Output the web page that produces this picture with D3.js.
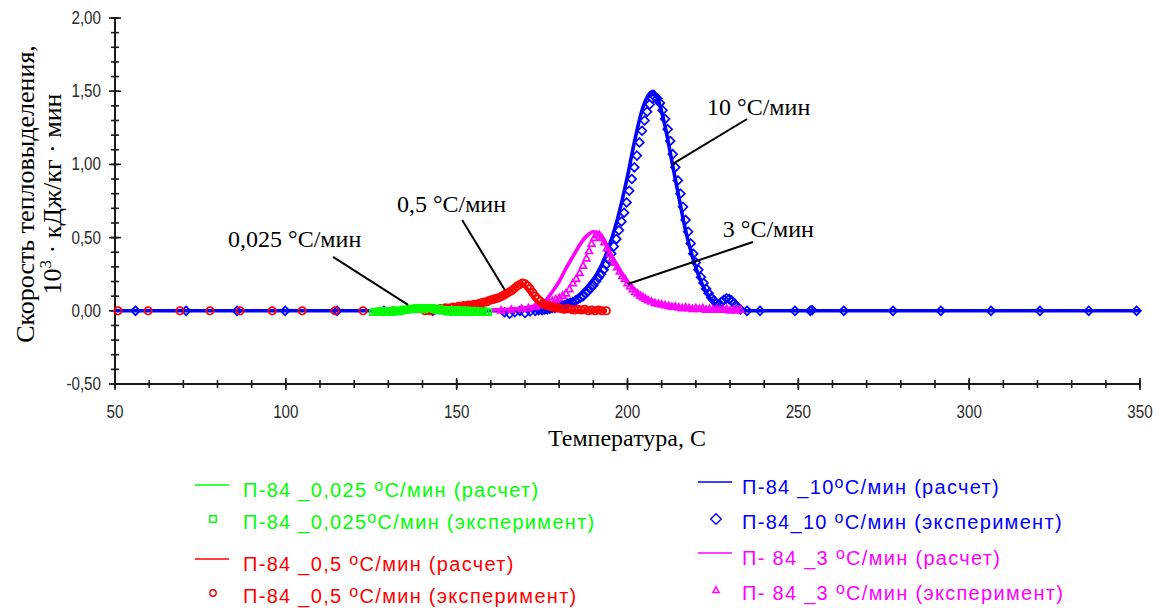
<!DOCTYPE html>
<html>
<head>
<meta charset="utf-8">
<script src="https://cdn.jsdelivr.net/npm/d3@7"></script>
<style>
  html, body { margin: 0; padding: 0; background: #fff; }
  svg { display: block; }
</style>
</head>
<body>
<svg id="chart" width="1160" height="608"></svg>
<script>
// ---- axis ticks ----
const xTicks = [50, 100, 150, 200, 250, 300, 350];
const yTicks = [-0.5, 0, 0.5, 1.0, 1.5, 2.0];

// ---- 10 °C/min: calculated curve [T, rate] ----
const blueCalc = [
  [50, 0], [100, 0], [150, 0], [160, 0], [170, 0.005], [175, 0.01], [180, 0.03],
  [185, 0.09], [188, 0.16], [191, 0.25], [194, 0.40], [197, 0.62], [200, 0.92],
  [202, 1.15], [204, 1.35], [206, 1.47], [207.5, 1.50], [209, 1.44], [211, 1.26],
  [213, 1.02], [215, 0.78], [217, 0.55], [219, 0.37], [221, 0.23], [223, 0.13],
  [225, 0.06], [227, 0.02], [230, 0.005], [235, 0], [300, 0], [350, 0]
];
// ---- 10 °C/min: experiment ----
const blueExp = [
  [56, 0], [70.8, 0], [85.7, 0], [99.8, 0], [115, 0], [128.7, 0], [143, 0], [157.7, 0],
  [164, -0.01], [165.5, -0.02], [167, -0.01], [168.5, 0], [170, -0.015], [171.5, -0.005],
  [173, 0.0], [174, 0.005], [175, 0.005], [175.75, 0.01], [176.5, 0.01], [177.25, 0.015],
  [178, 0.02], [178.75, 0.02], [179.5, 0.025], [180.25, 0.03], [181, 0.035], [181.75, 0.04],
  [182.5, 0.05], [183.25, 0.055], [184, 0.06], [184.75, 0.07], [185.5, 0.08], [186.25, 0.09],
  [187, 0.10], [187.75, 0.12], [188.5, 0.135], [189.25, 0.155], [190, 0.175], [190.75, 0.2],
  [191.5, 0.225], [192.25, 0.25], [193, 0.28], [193.75, 0.315], [194.5, 0.35], [195.25, 0.39],
  [196, 0.44], [196.75, 0.49], [197.5, 0.55], [198.25, 0.61], [199, 0.67], [199.75, 0.74],
  [200.5, 0.82], [201.25, 0.9], [202, 0.98], [202.75, 1.06], [203.5, 1.15], [204.25, 1.23],
  [205, 1.30], [205.75, 1.36], [206.5, 1.41], [207.25, 1.45], [208, 1.46], [208.75, 1.45],
  [209.5, 1.42], [210.25, 1.37], [211, 1.31], [211.75, 1.24], [212.5, 1.16], [213.25, 1.07],
  [214, 0.98], [214.75, 0.89], [215.5, 0.80], [216.25, 0.71], [217, 0.62], [217.75, 0.54],
  [218.5, 0.46], [219.25, 0.39], [220, 0.33], [220.75, 0.28], [221.5, 0.23], [222.25, 0.19],
  [223, 0.15], [223.75, 0.12], [224.5, 0.09], [225.25, 0.07], [226, 0.05], [226.75, 0.04],
  [227.5, 0.06], [228.25, 0.075], [229, 0.085], [229.75, 0.08], [230.5, 0.07], [231.25, 0.05],
  [232, 0.03], [233, 0.01], [235, 0.0],
  [238.8, 0], [249, 0], [253.5, 0], [254, 0.005], [263.3, 0], [277.7, 0], [291.7, 0],
  [306.4, 0], [320.7, 0], [335, 0], [349, 0]
];

// ---- 3 °C/min: calculated curve ----
const magentaCalc = [
  [160, 0.005], [165, 0.01], [170, 0.02], [173, 0.035], [175.5, 0.06], [178, 0.13],
  [180, 0.20], [182, 0.29], [184, 0.37], [186, 0.45], [188, 0.51], [190, 0.54],
  [191.5, 0.53], [193, 0.48], [195, 0.39], [197, 0.30], [199, 0.23], [201, 0.17],
  [203, 0.12], [205, 0.09], [207, 0.07], [210, 0.045], [214, 0.025], [220, 0.012],
  [226, 0.005], [233, 0]
];
// ---- 3 °C/min: experiment ----
const magentaExp = [
  [163, 0.005], [166, 0.01], [169, 0.015], [171, 0.02], [173, 0.03], [174.5, 0.04],
  [176, 0.05], [177, 0.06], [178, 0.07], [179, 0.08], [180, 0.09], [181, 0.105],
  [182, 0.12], [183, 0.15], [184, 0.19], [185, 0.22], [186, 0.26], [187, 0.31],
  [188, 0.36], [188.75, 0.41], [189.5, 0.46], [190.25, 0.5], [191, 0.52], [191.75, 0.52],
  [192.5, 0.5], [193.25, 0.47], [194, 0.43], [194.75, 0.39], [195.5, 0.36], [196.25, 0.33],
  [197, 0.3], [197.75, 0.27], [198.5, 0.24], [199.25, 0.22], [200, 0.19], [200.75, 0.17],
  [201.5, 0.15], [202.25, 0.13], [203, 0.12], [203.75, 0.105], [204.5, 0.095], [205.25, 0.085],
  [206, 0.075], [207, 0.065], [208, 0.055], [209, 0.05], [210, 0.045], [211, 0.04],
  [212, 0.035], [213, 0.03], [214, 0.03], [215, 0.025], [216, 0.02], [217, 0.025],
  [218, 0.02], [219, 0.015], [220, 0.02], [221, 0.015], [222, 0.02], [223, 0.01],
  [224, 0.015], [225, 0.01], [226, 0.015], [227, 0.01], [228, 0.01], [229, 0.015],
  [230, 0.005], [231, 0.01], [232, 0.005], [233, 0.01]
];

// ---- 0,5 °C/min: calculated curve ----
const redCalc = [
  [140, 0], [145, 0.012], [150, 0.025], [155, 0.042], [158, 0.058], [161, 0.08],
  [164, 0.11], [166, 0.14], [168, 0.175], [169, 0.19], [170, 0.17], [171.5, 0.12],
  [173, 0.075], [175, 0.04], [177, 0.02], [180, 0.008], [185, 0.003], [194, 0]
];
// ---- 0,5 °C/min: experiment ----
const redExp = [
  [50.9, 0], [59.7, 0], [69, 0], [77.8, 0], [86.6, 0], [96, 0], [104.8, 0], [114.4, 0],
  [122.6, 0], [131.4, 0], [140.7, 0],
  [141.5, 0.005], [142.25, 0.0], [143, 0.01], [143.75, 0.005], [144.5, 0.01], [145.25, 0.015],
  [146, 0.01], [146.75, 0.02], [147.5, 0.015], [148.25, 0.02], [149, 0.025], [149.75, 0.02],
  [150.5, 0.03], [151.25, 0.025], [152, 0.035], [152.75, 0.03], [153.5, 0.04], [154.25, 0.035],
  [155, 0.045], [155.75, 0.04], [156.5, 0.05], [157.25, 0.055], [158, 0.06], [158.75, 0.06],
  [159.5, 0.07], [160.25, 0.075], [161, 0.08], [161.75, 0.085], [162.5, 0.09], [163.25, 0.1],
  [164, 0.11], [164.75, 0.12], [165.5, 0.13], [166.25, 0.14], [167, 0.155], [167.75, 0.17],
  [168.5, 0.18], [169.25, 0.19], [170, 0.185], [170.75, 0.17], [171.5, 0.15], [172.25, 0.125],
  [173, 0.1], [173.75, 0.08], [174.5, 0.065], [175.25, 0.05], [176, 0.04], [176.75, 0.035],
  [177.5, 0.03], [178.25, 0.025], [179, 0.02], [179.75, 0.02], [180.5, 0.015], [181.5, 0.01],
  [182.5, 0.015], [183.5, 0.01], [184.5, 0.005], [185.5, 0.01], [186.5, 0.005], [187.5, 0.01],
  [188.5, 0.0], [189.5, 0.005], [190.5, 0.0], [191.5, 0.005], [192.5, 0.0], [193.8, 0.0]
];

// ---- 0,025 °C/min: calculated curve ----
const greenCalc = [
  [125, 0.002], [130, 0.008], [135, 0.012], [140, 0.017], [145, 0.02], [150, 0.02],
  [155, 0.015], [159, 0.01]
];
// ---- 0,025 °C/min: experiment ----
const greenExp = [
  [125.5, -0.01], [126.25, -0.005], [127, -0.01], [127.75, 0.0], [128.5, -0.01], [129.25, -0.005],
  [130, 0.0], [130.75, -0.01], [131.5, -0.005], [132.25, 0.005], [133, -0.005], [133.75, 0.0],
  [134.5, 0.01], [135.25, 0.005], [136, 0.01], [136.75, 0.015], [137.5, 0.01], [138.25, 0.02],
  [139, 0.015], [139.75, 0.02], [140.5, 0.01], [141.25, 0.02], [142, 0.015], [142.75, 0.02],
  [143.5, 0.01], [144.25, 0.005], [145, 0.015], [145.75, 0.0], [146.5, 0.005], [147.25, -0.005],
  [148, 0.0], [148.75, -0.01], [149.5, -0.005], [150.25, -0.01], [151, -0.005], [151.75, -0.01],
  [152.5, -0.005], [153.25, -0.01], [154, -0.005], [154.75, -0.01], [155.5, -0.005],
  [156.25, -0.01], [157, -0.005], [157.75, -0.01], [158.5, -0.005], [159.3, -0.01]
];

// ---- annotations: label, text anchor [T, rate], leader line start/end [T, rate] ----
const annotations = [
  { text: "10 °C/мин",    at: [223.3, 1.337], from: [235.0, 1.31], to: [213.0, 1.00] },
  { text: "3 °C/мин",     at: [227.9, 0.504], from: [236.7, 0.47], to: [200.1, 0.183] },
  { text: "0,5 °C/мин",   at: [132.5, 0.675], from: [151.6, 0.62], to: [164.1, 0.142] },
  { text: "0,025 °C/мин", at: [83.1, 0.436],  from: [113.8, 0.368], to: [135.8, 0.04] }
];

// ---- legend entries ----
const legendLeft = [
  { pre: "П-84 _0,025 ", post: "C/мин (расчет)", color: "#00ff00", kind: "line" },
  { pre: "П-84 _0,025",  post: "C/мин (эксперимент)", color: "#00ff00", kind: "square" },
  { pre: "П-84 _0,5 ",   post: "C/мин (расчет)", color: "#ff0000", kind: "line" },
  { pre: "П-84 _0,5 ",   post: "C/мин (эксперимент)", color: "#ff0000", kind: "circle" }
];
const legendRight = [
  { pre: "П-84 _10",   post: "C/мин (расчет)", color: "#0000ff", kind: "line" },
  { pre: "П-84_10 ",   post: "C/мин (эксперимент)", color: "#0000ff", kind: "diamond" },
  { pre: "П- 84 _3 ",  post: "C/мин (расчет)", color: "#ff00ff", kind: "line" },
  { pre: "П- 84 _3 ",  post: "C/мин (эксперимент)", color: "#ff00ff", kind: "triangle" }
];

// ================= drawing =================
const svg = d3.select("#chart");
const x = d3.scaleLinear().domain([50, 350]).range([115, 1140]);
const y = d3.scaleLinear().domain([-0.5, 2.0]).range([384, 18]);

const fmt = v => d3.format(".2f")(v).replace(".", ",").replace("\u2212", "-");
const tickFont = "'Liberation Sans Narrow', 'Arial Narrow', Arial, sans-serif";
const serif = "'Liberation Serif', 'Times New Roman', serif";
const sans = "'Liberation Sans', Arial, sans-serif";
const axisColor = "#1a1a1a";

// Y axis (ticks cross the axis line)
const yAxis = svg.append("g").attr("transform", `translate(${x(50)},0)`);
yAxis.append("line").attr("y1", y(2.0)).attr("y2", y(-0.5))
  .attr("stroke", axisColor).attr("stroke-width", 2);
yAxis.selectAll("line.minor").data(d3.range(-5, 21).map(i => i / 10))
  .join("line").attr("class", "minor")
  .attr("x1", -4).attr("x2", 4)
  .attr("y1", d => y(d)).attr("y2", d => y(d))
  .attr("stroke", axisColor).attr("stroke-width", 1.6);
yAxis.selectAll("line.major").data(yTicks)
  .join("line").attr("class", "major")
  .attr("x1", -6).attr("x2", 6)
  .attr("y1", d => y(d)).attr("y2", d => y(d))
  .attr("stroke", axisColor).attr("stroke-width", 1.6);
yAxis.selectAll("text").data(yTicks).join("text")
  .attr("transform", d => `translate(-14,${y(d) + 6}) scale(0.8,1)`)
  .attr("text-anchor", "end")
  .attr("font-family", tickFont).attr("font-size", 19)
  .attr("fill", "#2a2a2a")
  .text(fmt);

// X axis at the bottom of the plot
const xAxis = svg.append("g").attr("transform", `translate(0,${y(-0.5)})`);
xAxis.append("line").attr("x1", x(50)).attr("x2", x(350))
  .attr("stroke", axisColor).attr("stroke-width", 2);
xAxis.selectAll("line.minor").data(d3.range(50, 351, 10))
  .join("line").attr("class", "minor")
  .attr("x1", d => x(d)).attr("x2", d => x(d))
  .attr("y1", -4).attr("y2", 4)
  .attr("stroke", axisColor).attr("stroke-width", 1.6);
xAxis.selectAll("line.major").data(xTicks)
  .join("line").attr("class", "major")
  .attr("x1", d => x(d)).attr("x2", d => x(d))
  .attr("y1", -6).attr("y2", 6)
  .attr("stroke", axisColor).attr("stroke-width", 1.6);
xAxis.selectAll("text").data(xTicks).join("text")
  .attr("transform", d => `translate(${x(d)},34) scale(0.8,1)`)
  .attr("text-anchor", "middle")
  .attr("font-family", tickFont).attr("font-size", 19)
  .attr("fill", "#2a2a2a")
  .text(d => d);

// Axis titles
svg.append("text")
  .attr("x", 627).attr("y", 446)
  .attr("text-anchor", "middle")
  .attr("font-family", serif).attr("font-size", 24)
  .text("Температура, C");

const yTitle = svg.append("g").attr("font-family", serif).attr("font-size", 26)
  .attr("text-anchor", "middle");
yTitle.append("text")
  .attr("transform", "translate(34,194) rotate(-90)")
  .text("Скорость тепловыделения,");
const yt2 = yTitle.append("text")
  .attr("transform", "translate(61,194) rotate(-90)");
yt2.append("tspan").text("10");
yt2.append("tspan").attr("font-size", 17).attr("dy", -10).text("3");
yt2.append("tspan").attr("dy", 10).text(" · кДж/кг · мин");

// Series
const line = d3.line().x(d => x(d[0])).y(d => y(d[1])).curve(d3.curveMonotoneX);
const plot = svg.append("g");

function drawLine(data, color) {
  plot.append("path").datum(data)
    .attr("d", line).attr("fill", "none")
    .attr("stroke", color).attr("stroke-width", 3.6)
    .attr("stroke-linejoin", "round");
}
function symbolPath(kind, size) {
  const s = size;
  if (kind === "square") return `M${-s},${-s}H${s}V${s}H${-s}Z`;
  if (kind === "diamond") return `M0,${-s * 1.25}L${s * 1.25},0L0,${s * 1.25}L${-s * 1.25},0Z`;
  if (kind === "triangle") return `M0,${-s}L${s},${s * 0.8}L${-s},${s * 0.8}Z`;
  return d3.symbol(d3.symbolCircle, Math.PI * s * s)();
}
function drawMarkers(data, color, kind, size) {
  plot.append("g").selectAll("path").data(data).join("path")
    .attr("transform", d => `translate(${x(d[0])},${y(d[1])})`)
    .attr("d", symbolPath(kind, size))
    .attr("fill", "none").attr("stroke", color).attr("stroke-width", 1.7);
}

drawLine(blueCalc, "#0000ff");
drawMarkers(blueExp, "#0000ff", "diamond", 3.5);
drawLine(magentaCalc, "#ff00ff");
drawMarkers(magentaExp, "#ff00ff", "triangle", 3.4);
drawLine(redCalc, "#ff0000");
drawMarkers(redExp, "#ff0000", "circle", 3.7);
drawLine(greenCalc, "#00ff00");
drawMarkers(greenExp, "#00ff00", "square", 3);

// Annotations with leader lines
const ann = svg.append("g");
annotations.forEach(a => {
  ann.append("line")
    .attr("x1", x(a.from[0])).attr("y1", y(a.from[1]))
    .attr("x2", x(a.to[0])).attr("y2", y(a.to[1]))
    .attr("stroke", "#000").attr("stroke-width", 2);
  ann.append("text")
    .attr("x", x(a.at[0])).attr("y", y(a.at[1]))
    .attr("font-family", serif).attr("font-size", 24)
    .text(a.text);
});

// Legend
function drawLegend(entries, lineX0, textX, centers) {
  const g = svg.append("g");
  entries.forEach((e, i) => {
    const cy = centers[i];
    if (e.kind === "line") {
      g.append("line").attr("x1", lineX0).attr("x2", lineX0 + 34)
        .attr("y1", cy - 5).attr("y2", cy - 5)
        .attr("stroke", e.color).attr("stroke-width", 1.6);
    } else {
      g.append("path")
        .attr("transform", `translate(${lineX0 + 18},${cy - 3})`)
        .attr("d", symbolPath(e.kind, e.kind === "diamond" ? 4.2 : 3.2))
        .attr("fill", "none").attr("stroke", e.color).attr("stroke-width", 1.4);
    }
    const t = g.append("text").attr("x", textX).attr("y", cy + 7)
      .attr("font-family", sans).attr("font-size", 20)
      .attr("letter-spacing", 1.3).attr("fill", e.color);
    t.append("tspan").text(e.pre);
    t.append("tspan").attr("font-size", 16).attr("dy", -6).text("o");
    t.append("tspan").attr("dy", 6).text(e.post);
  });
}
drawLegend(legendLeft, 195, 243, [490, 522, 564, 596]);
drawLegend(legendRight, 698, 742, [487, 522, 558, 593]);
</script>
</body>
</html>
